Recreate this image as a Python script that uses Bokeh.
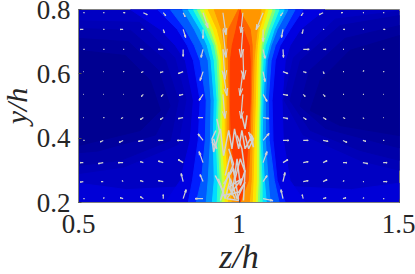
from bokeh.plotting import figure
from bokeh.embed import file_html
from bokeh.resources import INLINE
from bokeh.models import Range1d, FixedTicker
import numpy as np

# contour rows (y/h) of the central jet
y_rows = [0.8, 0.738, 0.688, 0.641, 0.517, 0.393, 0.268, 0.2]

# (colour, left edge z/h per row, right edge z/h per row)
jet_colors = ["#0000e1", "#001eff", "#005aff", "#0096ff", "#00dcff", "#32ffc8", "#82ff78",
              "#d2ff28", "#ffe600", "#ffbe00", "#ff9600", "#ff6400", "#ff3c00"]
jet_left = [
    [.662, .755, .802, .833, .858, .848, .817, .771],
    [.746, .808, .839, .858, .879, .873, .855, .842],
    [.786, .833, .861, .879, .898, .895, .883, .867],
    [.824, .861, .886, .904, .913, .911, .904, .898],
    [.842, .879, .901, .913, .923, .920, .923, .917],
    [.858, .892, .913, .923, .932, .929, .935, .932],
    [.870, .901, .923, .932, .938, .935, .942, .942],
    [.879, .911, .929, .938, .945, .942, .948, .948],
    [.892, .920, .935, .945, .951, .948, .957, .957],
    [.904, .932, .945, .951, .957, .957, .967, .967],
    [.923, .945, .954, .960, .963, .963, .973, .979],
    [.998, .967, .963, .967, .970, .970, .982, .998],
    [1.004, .991, .979, .973, .973, .976, .991, 1.004],
]
jet_right = [
    [1.268, 1.191, 1.159, 1.144, 1.134, 1.138, 1.159, 1.206],
    [1.200, 1.159, 1.128, 1.113, 1.103, 1.106, 1.119, 1.144],
    [1.175, 1.141, 1.113, 1.100, 1.091, 1.094, 1.110, 1.125],
    [1.153, 1.119, 1.100, 1.088, 1.082, 1.082, 1.091, 1.097],
    [1.141, 1.110, 1.094, 1.082, 1.075, 1.072, 1.079, 1.085],
    [1.125, 1.100, 1.082, 1.075, 1.069, 1.066, 1.072, 1.072],
    [1.113, 1.091, 1.075, 1.069, 1.066, 1.063, 1.066, 1.063],
    [1.103, 1.082, 1.069, 1.066, 1.063, 1.060, 1.060, 1.057],
    [1.091, 1.072, 1.063, 1.060, 1.057, 1.054, 1.054, 1.051],
    [1.082, 1.063, 1.057, 1.054, 1.051, 1.047, 1.044, 1.041],
    [1.069, 1.057, 1.051, 1.047, 1.044, 1.041, 1.038, 1.032],
    [1.000, 1.035, 1.041, 1.041, 1.038, 1.035, 1.029, 1.004],
    [1.004, 1.013, 1.032, 1.035, 1.035, 1.029, 1.019, 1.004],
]

# low-value regions either side of the jet
low_regions = [
    ("#0000d7", [.5, .65, .85, 1.15, 1.35, 1.5, 1.5, .5], [.26, .24, .25, .25, .24, .26, .2, .2]),
    ("#0000b7", [.5, .69, .80, .835, .81, .64, .5], [.765, .76, .65, .52, .38, .31, .29]),
    ("#0000b7", [1.5, 1.30, 1.17, 1.14, 1.20, 1.38, 1.5], [.795, .77, .65, .52, .41, .33, .30]),
    ("#0000aa", [.5, .662, .771, .811, .786, .631, .5], [.741, .735, .641, .517, .393, .331, .315]),
    ("#0000aa", [1.5, 1.315, 1.191, 1.159, 1.222, 1.377, 1.5], [.781, .750, .641, .517, .424, .362, .331]),
    ("#00009d", [.5, .655, .75, .785, .74, .56, .5], [.71, .70, .61, .50, .41, .36, .355]),
    ("#00009d", [1.5, 1.33, 1.22, 1.19, 1.27, 1.44, 1.5], [.75, .71, .61, .50, .43, .385, .37]),
    ("#000091", [.5, .646, .724, .755, .693, .5], [.673, .657, .579, .486, .424, .377]),
    ("#000091", [1.5, 1.346, 1.253, 1.222, 1.315, 1.5], [.719, .673, .579, .486, .439, .408]),
]

# velocity vectors
arrow_z = [.515, .577, .639, .702, .764, .826, .888, .95, 1.012, 1.075, 1.137, 1.2, 1.262, 1.324, 1.386, 1.449]
arrow_y = [.79, .738, .676, .607, .536, .464, .393, .324, .265, .212]
U = [
    [1, 1, 2, 4, 2.5, 2, 5, 3, -2, -7, -2.5, -2, -4, -2, 1, 1],
    [-3, 1, -3, -2, 1.3, 2.5, 0, 3, -2, 0, -1.5, -1, 1, 2, 1, 2],
    [1, 1, 1, -3, -5, 0, -2, 2, 1, 2, .5, 6, 3, 1, 1, 1],
    [.5, .5, 1, -2, -3, -5, -3, 4, -3, 2, 5, 3, 1, 1, 1, 1],
    [.5, .5, .5, -2, -2, -4, -4, 2, -2, 4, 5, 2, 2, 1, 1, .5],
    [.5, 1, -2, -3, -3, -5, -5, 0, 0, 6, 5, 3, 3, 2, 1, .5],
    [1, -3, -4, -5, -5, -6, -5, 0, 0, 6, 6, 5, 5, 4, 3, 1],
    [-3, -5, -5, -3, -5, -5, -4, 0, 0, 4, 5, 5, 4, 4, 5, 4],
    [-3, -2, -1, -3, -5, -2, -3, 0, 0, 4, 2, 5, 4, 1, 1, 4],
    [1, 1, -3, -3, 0, 3, -8, 0, 0, 10, -2, -1, 3, 3, 1, 1],
]
V = [
    [0, 0, 0, -2, -3, -4, -15, -22, -20, -17, -3, -3, -2, 0, 0, 0],
    [0, 0, 0, 0, -3.5, -8, -9, -28, -28, -12, -8, -4, 0, 0, 0, 0],
    [0, 0, 0, 0, 0, -7, -8, -30, -30, -9, -8, 0, 0, 0, 0, 0],
    [0, 0, 0, -1, -1, -2, -9, -24, -24, -10, -2, -1, -2, 0, 1, 0],
    [0, 0, 0, -2, -2, -1, -6, -24, -24, -7, -1, -2, -2, 0, 0, 0],
    [0, 0, -1, -2, -2, -1, 0, 0, 0, -1, -1, -2, -2, -1, -1, 0],
    [0, -1.5, -2, -1, 0, 0, 6.5, 0, 0, 7, 0, 0, -1, -2, -1, 0],
    [0, -1, 0, 1, 1.5, 3, 11, 0, 0, 11, 3, 1, 2, 0, -1, 0],
    [-.5, 0, 1, 1, 1, 8, 7, 0, 0, 6, 9, 1, 2, 1, 0, 0],
    [0, 1, 1, 2, 4, 9, 0, 0, 0, -2, 9, 4, 1, 1, 1, 0],
]
arrow_scale = 0.0031

# tangle of long arrows in the lower part of the jet
tangle_z = [
    [.928, .916, .921, .942, .952, .968, .978, .986, .999, 1.009, 1.019, 1.040, 1.045, 1.030],
    [.926, .952, .942, .968, .978, .994, 1.004, 1.019, 1.014],
    [.952, .983, .999, .962, 1.009, .968, .988],
    [.931, .939],
    [1.009, 1.019, 1.025],
    [.968, .983, .968],
    [.957, .973, .988, 1.004, 1.019, 1.009, .994],
    [.936, .957, .973, .994, 1.019, .999, .947],
    [1.019, 1.030, 1.045, 1.035],
    [.916, .931, .921],
]
tangle_y = [
    [.424, .398, .357, .429, .346, .424, .367, .429, .367, .424, .367, .408, .372, .419],
    [.284, .232, .206, .294, .222, .336, .253, .300, .206],
    [.258, .305, .206, .212, .274, .248, .212],
    [.460, .424],
    [.471, .429, .471],
    [.367, .320, .284],
    [.284, .346, .274, .336, .294, .367, .408],
    [.274, .212, .274, .212, .263, .232, .222],
    [.408, .367, .398, .414],
    [.388, .367, .398],
]

x_ticks = [0.5, 1, 1.5]
y_ticks = [0.2, 0.4, 0.6, 0.8]
x_labels = {0.5: "0.5", 1: "1", 1.5: "1.5"}
y_labels = {0.2: "0.2", 0.4: "0.4", 0.6: "0.6", 0.8: "0.8"}

p = figure(width=419, height=274, output_backend="svg", toolbar_location=None,
           x_range=Range1d(0.5, 1.5), y_range=Range1d(0.2, 0.8),
           frame_width=321, frame_height=193, min_border_left=82, min_border_right=16,
           min_border_top=9, min_border_bottom=72,
           styles={"position": "absolute", "left": "-4px", "top": "0px"})
p.grid.visible = False
p.background_fill_color = "#0000c3"
p.outline_line_color = "#808080"
p.outline_line_width = 1

for col, zs, ys in low_regions:
    p.patch(zs, ys, fill_color=col, line_color=col)

for col, le, ri in zip(jet_colors, jet_left, jet_right):
    p.patch(le + ri[::-1], y_rows + y_rows[::-1], fill_color=col, line_color=col)

X, Y = np.meshgrid(arrow_z, arrow_y)
u = np.array(U, dtype=float) * arrow_scale
v = np.array(V, dtype=float) * arrow_scale
mask = (u != 0) | (v != 0)
x0, y0, dx, dy = X[mask], Y[mask], u[mask], v[mask]
x1, y1 = x0 + dx, y0 + dy
arrow_col = "#d2d2d2"
p.segment(x0, y0, x1, y1, line_color=arrow_col, line_width=1.2)
for sign in (1, -1):
    p.segment(x1, y1, x1 - 0.3 * dx + sign * 0.08 * dy, y1 - 0.3 * dy - sign * 0.08 * dx,
              line_color=arrow_col, line_width=1.1)
p.multi_line(tangle_z, tangle_y, line_color=arrow_col, line_width=1.5)

font = "Liberation Serif"
for ax, ticks, labels in ((p.xaxis[0], x_ticks, x_labels), (p.yaxis[0], y_ticks, y_labels)):
    ax.ticker = FixedTicker(ticks=ticks)
    ax.major_label_overrides = labels
    ax.minor_tick_line_color = None
    ax.major_tick_in = 3
    ax.major_tick_out = 0
    ax.major_tick_line_color = "#505050"
    ax.axis_line_color = "#808080"
    ax.major_label_text_font = font
    ax.major_label_text_font_size = "27px"
    ax.major_label_text_color = "#262626"
    ax.axis_label_text_font = font
    ax.axis_label_text_font_style = "italic"
    ax.axis_label_text_color = "#262626"
p.xaxis[0].axis_label_text_font_size = "34px"
p.yaxis[0].axis_label_text_font_size = "30px"
p.xaxis[0].axis_label = "z/h"
p.yaxis[0].axis_label = "y/h"
p.xaxis[0].major_label_standoff = 12
p.yaxis[0].major_label_standoff = 8
p.xaxis[0].axis_label_standoff = 2
p.yaxis[0].axis_label_standoff = 1

open("out.html", "w").write(file_html(p, INLINE))
